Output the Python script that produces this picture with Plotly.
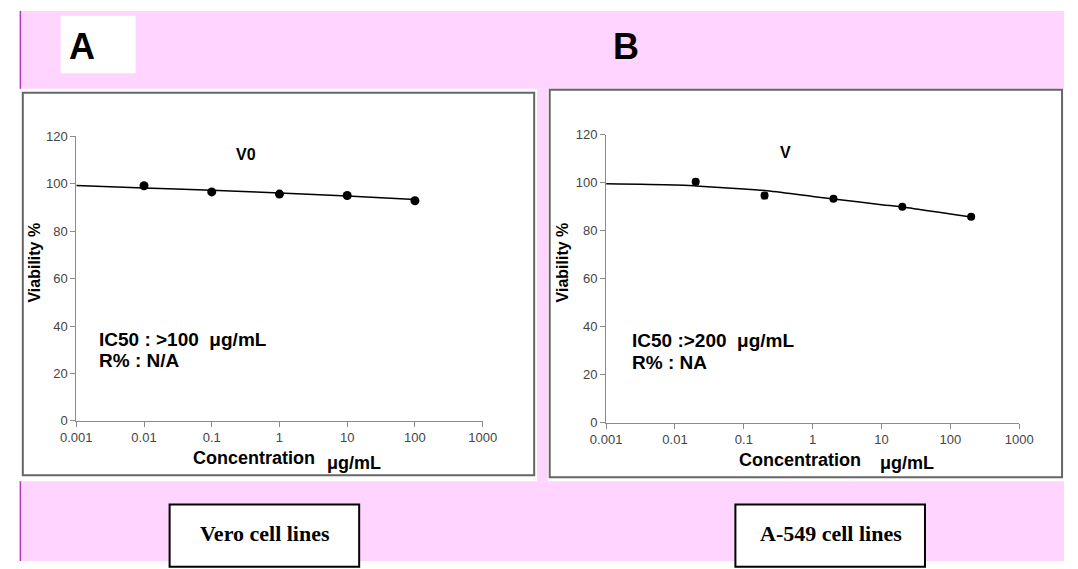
import plotly.graph_objects as go

W, H = 1078, 569

# ---------------- data ----------------
vero_conc = [0.01, 0.1, 1, 10, 100]
vero_viab = [99.2, 96.6, 95.7, 95.1, 92.9]
vero_fit_conc = [0.001, 0.01, 0.1, 1, 10, 100]
vero_fit_viab = [99.3, 98.3, 97.3, 96.2, 94.9, 93.4]

a549_conc = [0.02, 0.2, 2, 20, 200]
a549_viab = [100.3, 94.6, 93.3, 89.9, 85.8]
a549_err = [1.0, 1.2, 0.8, 0.6, 0.8]
a549_fit_conc = [0.001, 0.01, 0.02, 0.1, 0.2, 1, 2, 10, 20, 100, 200]
a549_fit_viab = [99.5, 99.0, 98.6, 97.3, 96.7, 94.2, 93.2, 90.8, 89.8, 86.9, 85.7]

x_tickvals = [0.001, 0.01, 0.1, 1, 10, 100, 1000]
x_ticktext = ["0.001", "0.01", "0.1", "1", "10", "100", "1000"]
y_tickvals = [0, 20, 40, 60, 80, 100, 120]

# ---------------- helpers ----------------
def px(x):
    return x / W

def py(y):
    return 1 - y / H

PINK = "#FFD4FF"
MAG = "#B03AB8"
FONT = "Liberation Sans, Arial, sans-serif"

fig = go.Figure()

fig.add_trace(go.Scatter(x=vero_fit_conc, y=vero_fit_viab, mode="lines",
                         line=dict(color="black", width=1.5, shape="spline"),
                         xaxis="x", yaxis="y", showlegend=False, hoverinfo="skip"))
fig.add_trace(go.Scatter(x=vero_conc, y=vero_viab, mode="markers",
                         marker=dict(color="black", size=9),
                         xaxis="x", yaxis="y", showlegend=False))
fig.add_trace(go.Scatter(x=a549_fit_conc, y=a549_fit_viab, mode="lines",
                         line=dict(color="black", width=1.5, shape="spline"),
                         xaxis="x2", yaxis="y2", showlegend=False, hoverinfo="skip"))
fig.add_trace(go.Scatter(x=a549_conc, y=a549_viab, mode="markers",
                         marker=dict(color="black", size=8, symbol="circle"),
                         error_y=dict(type="data", array=a549_err, color="black",
                                      thickness=1.5, width=3),
                         xaxis="x2", yaxis="y2", showlegend=False))

axis_common_x = dict(type="log", range=[-3, 3], tickvals=x_tickvals, ticktext=x_ticktext,
                     showline=True, linecolor="#8a8a8a", linewidth=1, ticks="outside",
                     ticklen=5, tickcolor="#8a8a8a", showgrid=False, zeroline=False,
                     tickfont=dict(family=FONT, size=13, color="#444"))
axis_common_y = dict(range=[0, 120], tickvals=y_tickvals,
                     showline=True, linecolor="#8a8a8a", linewidth=1, ticks="outside",
                     ticklen=5, tickcolor="#8a8a8a", showgrid=False, zeroline=False,
                     tickfont=dict(family=FONT, size=13, color="#444"))

shapes = [
    dict(type="rect", xref="paper", yref="paper", x0=px(4), x1=px(1078), y0=py(84), y1=py(4),
         fillcolor=PINK, line=dict(width=0), layer="below"),
    dict(type="rect", xref="paper", yref="paper", x0=px(4), x1=px(1078), y0=py(569), y1=py(487),
         fillcolor=PINK, line=dict(width=0), layer="below"),
    dict(type="rect", xref="paper", yref="paper", x0=px(536), x1=px(547), y0=py(487), y1=py(84),
         fillcolor=PINK, line=dict(width=0), layer="below"),
    dict(type="line", xref="paper", yref="paper", x0=px(4.5), x1=px(4.5), y0=py(84), y1=py(4),
         line=dict(color=MAG, width=1.5), layer="below"),
    dict(type="line", xref="paper", yref="paper", x0=px(4.5), x1=px(4.5), y0=py(569), y1=py(487),
         line=dict(color=MAG, width=1.5), layer="below"),
    dict(type="rect", xref="paper", yref="paper", x0=px(46), x1=px(123), y0=py(68), y1=py(9),
         fillcolor="white", line=dict(width=0), layer="below"),
    dict(type="rect", xref="paper", yref="paper", x0=px(7), x1=px(533), y0=py(481), y1=py(88),
         fillcolor="white", line=dict(color="#666", width=2), layer="below"),
    dict(type="rect", xref="paper", yref="paper", x0=px(549), x1=px(1076), y0=py(483), y1=py(85),
         fillcolor="white", line=dict(color="#666", width=2), layer="below"),
    dict(type="rect", xref="paper", yref="paper", x0=px(158), x1=px(353), y0=py(575), y1=py(511),
         fillcolor="white", line=dict(color="black", width=2), layer="below"),
    dict(type="rect", xref="paper", yref="paper", x0=px(740), x1=px(935), y0=py(575), y1=py(511),
         fillcolor="white", line=dict(color="black", width=2), layer="below"),
]

def ann(text, x, y, size, bold=True, family=FONT, angle=0, xanchor="center", color="black"):
    t = f"<b>{text}</b>" if bold else text
    return dict(text=t, x=px(x), y=py(y), xref="paper", yref="paper", showarrow=False,
                xanchor=xanchor, yanchor="middle", textangle=angle,
                font=dict(family=family, size=size, color=color))

SERIF = "Liberation Serif, Times New Roman, serif"
annotations = [
    ann("A", 68, 41, 36),
    ann("B", 627, 41, 36),
    ann("V0", 237, 152, 16),
    ann("V", 792, 149, 16),
    ann("IC50 : &gt;100  μg/mL", 83, 342, 19, xanchor="left"),
    ann("R% : N/A", 83, 363, 19, xanchor="left"),
    ann("IC50 :&gt;200  μg/mL", 632, 343, 19, xanchor="left"),
    ann("R% : NA", 632, 365, 19, xanchor="left"),
    ann("Viability %", 19, 262, 16, angle=-90),
    ann("Viability %", 562, 262, 16, angle=-90),
    ann("Concentration", 245, 463, 18),
    ann("μg/mL", 348, 468, 18),
    ann("Concentration", 806, 465, 18),
    ann("μg/mL", 917, 468, 18),
    ann("Vero cell lines", 256, 541, 22, family=SERIF),
    ann("A-549 cell lines", 838, 541, 22, family=SERIF),
]

fig.update_layout(
    width=W, height=H, margin=dict(l=0, r=0, t=0, b=0),
    paper_bgcolor="white", plot_bgcolor="rgba(0,0,0,0)",
    showlegend=False,
    xaxis=dict(domain=[px(62), px(480)], anchor="y", **axis_common_x),
    yaxis=dict(domain=[py(425), py(133)], anchor="x", **axis_common_y),
    xaxis2=dict(domain=[px(607), px(1032)], anchor="y2", **axis_common_x),
    yaxis2=dict(domain=[py(427), py(131)], anchor="x2", **axis_common_y),
    shapes=shapes,
    annotations=annotations,
)

fig.write_html("out.html",
               config={"displayModeBar": False},
               post_script="document.body.style.margin='0';document.body.style.padding='0';"
                           "document.documentElement.style.overflow='hidden';")
